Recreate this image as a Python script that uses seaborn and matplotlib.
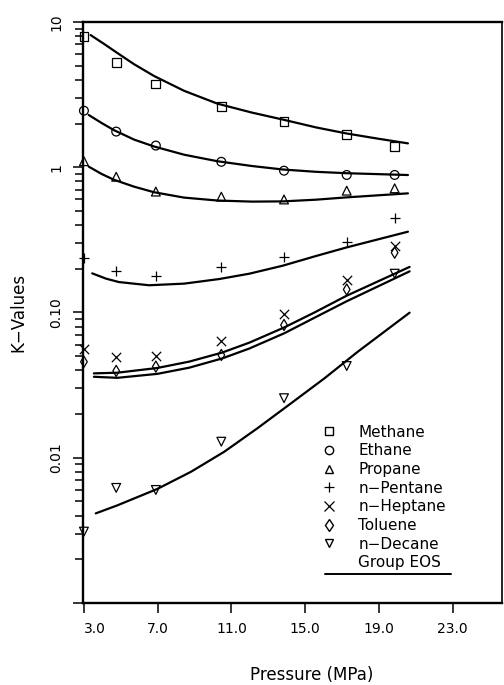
import numpy as np
import pandas as pd
import matplotlib
matplotlib.use("Agg")
import matplotlib.pyplot as plt
import seaborn as sns
from matplotlib.lines import Line2D

# ---------------- data ----------------
species = ["Methane", "Ethane", "Propane", "n\u2212Pentane", "n\u2212Heptane", "Toluene", "n\u2212Decane"]
markers = ["s", "o", "^", "+", "x", "d", "v"]

pressure_exp = [3.0, 4.75, 6.9, 10.45, 13.85, 17.25, 19.85]
k_methane = [7.92, 5.25, 3.74, 2.61, 2.06, 1.69, 1.39]
k_ethane = [2.45, 1.76, 1.41, 1.09, 0.947, 0.885, 0.885]
k_propane = [1.10, 0.86, 0.68, 0.627, 0.60, 0.69, 0.716]
k_pentane = [0.238, 0.193, 0.179, 0.205, 0.242, 0.307, 0.445]
k_heptane = [0.0558, 0.0491, 0.0501, 0.0640, 0.0977, 0.168, 0.287]
k_toluene = [0.0458, 0.0396, 0.0424, 0.0510, 0.0820, 0.144, 0.258]
k_decane = [0.0031, 0.0062, 0.0060, 0.0129, 0.0257, 0.0428, 0.185]

# Group EOS curves
p_methane = [3.36, 4.1, 4.81, 5.72, 6.80, 8.43, 10.24, 12.1, 13.78, 15.59, 17.22, 18.85, 20.57]
eos_methane = [8.13, 7.05, 6.12, 5.12, 4.25, 3.36, 2.74, 2.38, 2.13, 1.88, 1.71, 1.58, 1.46]
p_ethane = [3.26, 3.95, 4.63, 5.72, 6.80, 8.43, 10.24, 12.1, 13.78, 15.59, 17.22, 20.57]
eos_ethane = [2.29, 2.02, 1.80, 1.55, 1.39, 1.22, 1.10, 1.02, 0.965, 0.93, 0.91, 0.884]
p_propane = [3.26, 3.95, 4.63, 5.72, 6.80, 8.43, 10.24, 12.1, 13.78, 15.59, 17.22, 20.57]
eos_propane = [1.01, 0.90, 0.82, 0.735, 0.673, 0.618, 0.590, 0.580, 0.582, 0.598, 0.620, 0.661]
p_pentane = [3.45, 4.2, 4.90, 6.53, 8.43, 10.34, 11.97, 13.78, 15.59, 17.22, 20.57]
eos_pentane = [0.186, 0.171, 0.162, 0.154, 0.158, 0.170, 0.185, 0.210, 0.245, 0.280, 0.360]
p_heptane = [3.54, 4.81, 6.98, 8.71, 10.5, 11.97, 13.87, 15.5, 17.22, 20.66]
eos_heptane = [0.0381, 0.0385, 0.0415, 0.0459, 0.0530, 0.0620, 0.0790, 0.100, 0.130, 0.206]
p_toluene = [3.54, 4.81, 6.98, 8.71, 10.5, 11.97, 13.87, 15.5, 17.22, 20.66]
eos_toluene = [0.0361, 0.0355, 0.0378, 0.0417, 0.0483, 0.0565, 0.0720, 0.092, 0.119, 0.192]
p_decane = [3.64, 4.81, 6.98, 8.80, 10.61, 12.42, 14.23, 16.04, 17.85, 20.66]
eos_decane = [0.00414, 0.00470, 0.00610, 0.00800, 0.0110, 0.0160, 0.0237, 0.0352, 0.0537, 0.0997]

x_ticks = [3.0, 7.0, 11.0, 15.0, 19.0, 23.0]
x_tick_labels = ["3.0", "7.0", "11.0", "15.0", "19.0", "23.0"]
y_ticks = [0.001, 0.01, 0.1, 1, 10]
y_tick_labels = ["", "0.01", "0.10", "1", "10"]

# ---------------- plot ----------------
sns.set_theme(style="ticks")
plt.rcParams["font.family"] = ["DejaVu Sans"]

fig = plt.figure(figsize=(5.04, 6.85), dpi=100)
ax = fig.add_axes([0.1647, 0.1197, 0.8313, 0.8482])

exp_k = [k_methane, k_ethane, k_propane, k_pentane, k_heptane, k_toluene, k_decane]
curves = [(p_methane, eos_methane), (p_ethane, eos_ethane), (p_propane, eos_propane),
          (p_pentane, eos_pentane), (p_heptane, eos_heptane), (p_toluene, eos_toluene),
          (p_decane, eos_decane)]

for (pp, kk) in curves:
    df = pd.DataFrame({"p": pp, "k": kk})
    sns.lineplot(data=df, x="p", y="k", ax=ax, color="black", linewidth=1.6,
                 estimator=None, sort=False, legend=False)

handles = []
for name, mk, kv in zip(species, markers, exp_k):
    df = pd.DataFrame({"p": pressure_exp, "k": kv})
    if mk in ("+", "x"):
        sns.scatterplot(data=df, x="p", y="k", ax=ax, marker=mk, s=45,
                        color="black", linewidth=0.9, legend=False, clip_on=False, zorder=3)
        handles.append(Line2D([], [], linestyle="", marker=mk, markersize=6.5,
                              color="black", markeredgewidth=0.9))
    else:
        size = 32 if mk == "d" else 40
        sns.scatterplot(data=df, x="p", y="k", ax=ax, marker=mk, s=size,
                        facecolor="none", edgecolor="black", linewidth=0.9,
                        legend=False, clip_on=False, zorder=3)
        handles.append(Line2D([], [], linestyle="", marker=mk, markersize=6,
                              markerfacecolor="none", markeredgecolor="black",
                              markeredgewidth=1.0))
handles.append(Line2D([], [], linestyle="", marker=None))
labels = species + ["Group EOS"]

ax.set_yscale("log")
ax.set_xlim(2.95, 25.67)
ax.set_ylim(0.001, 10)
ax.set_xticks(x_ticks)
ax.set_xticklabels(x_tick_labels)
ax.set_yticks(y_ticks)
ax.set_yticklabels(y_tick_labels, rotation=90, va="center")
ax.xaxis.get_majorticklabels()[0].set_horizontalalignment("left")

ax.tick_params(axis="both", which="major", direction="out", length=7, width=1.1,
               labelsize=10, color="black", labelcolor="black")
ax.tick_params(axis="x", which="major", pad=7)
ax.tick_params(axis="y", which="major", pad=7)
ax.tick_params(axis="y", which="minor", direction="out", length=6, width=1.1, color="black")
ax.tick_params(axis="x", which="minor", bottom=False)

for side in ["left", "bottom", "top", "right"]:
    ax.spines[side].set_visible(True)
    ax.spines[side].set_color("black")
    ax.spines[side].set_linewidth(1.7)
ax.spines["right"].set_linewidth(1.2)

ax.set_xlabel("Pressure (MPa)", fontsize=12, color="black")
ax.set_ylabel("K\u2212Values", fontsize=12, color="black")
ax.xaxis.set_label_coords(0.545, -0.108)
ax.yaxis.set_label_coords(-0.132, 0.5)

leg = ax.legend(handles, labels, loc="upper left", bbox_to_anchor=(0.570, 0.307),
                frameon=False, fontsize=11, handlelength=1.0, handletextpad=1.4,
                labelspacing=0.24, borderpad=0, borderaxespad=0)
for t in leg.get_texts():
    t.set_color("black")
ax.plot([0.577, 0.878], [0.050, 0.050], transform=ax.transAxes, color="black",
        linewidth=1.4, clip_on=False)

fig.savefig("out.png", dpi=100, facecolor="white")
